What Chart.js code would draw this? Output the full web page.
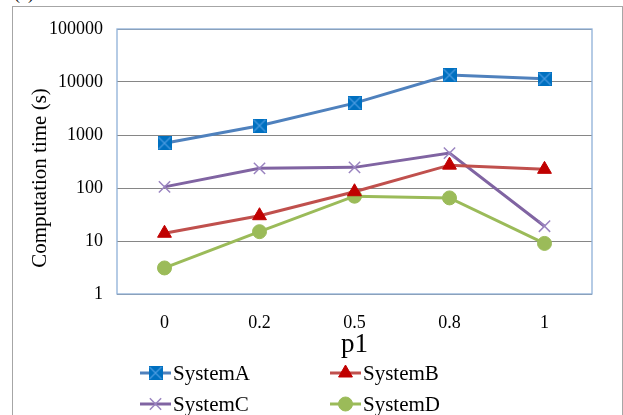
<!DOCTYPE html>
<html>
<head>
<meta charset="utf-8">
<script src="https://cdn.jsdelivr.net/npm/chart.js@4/dist/chart.umd.min.js"></script>
<style>
  html, body { margin: 0; padding: 0; background: #fff; overflow: hidden; }
  #frame { position: absolute; left: 12px; top: 6px; width: 609px; height: 420px; border: 1.5px solid #a6a6a6; }
  #tag { position: absolute; left: 14px; top: -17px; font: 18px "Liberation Serif", serif; color: #000; }
  #wrap { position: absolute; left: 0; top: 0; width: 623px; height: 415px; }
</style>
</head>
<body>
<div id="frame"></div>
<div id="tag">(a)</div>
<div id="wrap"><canvas id="chart"></canvas></div>
<script>
// p1 values on the x axis, computation times in seconds (log scale)
const P1_LABELS = ['0', '0.2', '0.5', '0.8', '1'];
const SYSTEM_A = [700, 1500, 4000, 13500, 11500];
const SYSTEM_B = [14, 30, 85, 270, 225];
const SYSTEM_C = [105, 235, 245, 455, 19];
const SYSTEM_D = [3.1, 15, 70, 65, 9];
const Y_TICKS = [1, 10, 100, 1000, 10000, 100000];
const Y_TITLE = 'Computation time (s)';

const FONT = '"Liberation Serif", "Times New Roman", serif';

// square marker with an X through it, like the Excel one
function squareX() {
  const c = document.createElement('canvas');
  c.width = 14; c.height = 14;
  const g = c.getContext('2d');
  g.fillStyle = '#0070c0';
  g.fillRect(0, 0, 14, 14);
  g.strokeStyle = '#4a9be0';
  g.lineWidth = 1.2;
  g.beginPath();
  g.moveTo(1, 1); g.lineTo(13, 13);
  g.moveTo(13, 1); g.lineTo(1, 13);
  g.stroke();
  return c;
}

const datasets = [
  { label: 'SystemA', data: SYSTEM_A, borderColor: '#4f81bd', backgroundColor: '#0070c0',
    pointStyle: squareX(), pointRadius: 7, pointBorderWidth: 0 },
  { label: 'SystemB', data: SYSTEM_B, borderColor: '#c0504d', backgroundColor: '#c00000',
    pointBorderColor: '#c00000', pointStyle: 'triangle', pointRadius: 8, pointBorderWidth: 1 },
  { label: 'SystemC', data: SYSTEM_C, borderColor: '#8064a2', backgroundColor: '#9a84c0',
    pointBorderColor: '#9a84c0', pointStyle: 'crossRot', pointRadius: 8, pointBorderWidth: 1.5 },
  { label: 'SystemD', data: SYSTEM_D, borderColor: '#9bbb59', backgroundColor: '#9bbb59',
    pointBorderColor: '#9bbb59', pointStyle: 'circle', pointRadius: 7, pointBorderWidth: 1 }
];
datasets.forEach(d => { d.borderWidth = 3; d.tension = 0; d.pointHoverRadius = d.pointRadius; });

// light blue frame round the plot area
const plotFrame = {
  id: 'plotFrame',
  beforeDatasetsDraw(chart) {
    const a = chart.chartArea, ctx = chart.ctx;
    ctx.save();
    ctx.strokeStyle = '#8eb0d8';
    ctx.lineWidth = 1.3;
    ctx.strokeRect(a.left, a.top, a.right - a.left, a.bottom - a.top);
    ctx.restore();
  }
};

// y title sits a bit below the middle of the axis in the original
const yTitle = {
  id: 'yTitle',
  afterDraw(chart) {
    const ctx = chart.ctx;
    ctx.save();
    ctx.translate(40, 178);
    ctx.rotate(-Math.PI / 2);
    ctx.fillStyle = '#000';
    ctx.font = '21px ' + FONT;
    ctx.textAlign = 'center';
    ctx.textBaseline = 'middle';
    ctx.fillText(Y_TITLE, 0, 0);
    ctx.restore();
  }
};

// two-column legend under the axis title
const gridLegend = {
  id: 'gridLegend',
  afterDraw(chart) {
    const ctx = chart.ctx;
    chart.data.datasets.forEach((ds, i) => {
      const x = 140 + (i % 2) * 190;
      const y = 373 + Math.floor(i / 2) * 31;
      ctx.save();
      ctx.strokeStyle = ds.borderColor;
      ctx.lineWidth = 3;
      ctx.beginPath();
      ctx.moveTo(x, y); ctx.lineTo(x + 31, y);
      ctx.stroke();
      ctx.fillStyle = ds.backgroundColor;
      ctx.strokeStyle = ds.pointBorderColor || ds.backgroundColor;
      ctx.lineWidth = ds.pointBorderWidth;
      Chart.helpers.drawPoint(ctx, { pointStyle: ds.pointStyle, radius: ds.pointRadius, borderWidth: ds.pointBorderWidth, rotation: 0 }, x + 15.5, y);
      ctx.fillStyle = '#000';
      ctx.font = '21px ' + FONT;
      ctx.textBaseline = 'middle';
      ctx.fillText(ds.label, x + 33, y + 1);
      ctx.restore();
    });
  }
};

new Chart(document.getElementById('chart'), {
  type: 'line',
  data: { labels: P1_LABELS, datasets },
  options: {
    responsive: true,
    maintainAspectRatio: false,
    animation: false,
    layout: { padding: { top: 29, right: 31, left: 20, bottom: 54 } },
    plugins: { legend: { display: false }, tooltip: { enabled: false } },
    scales: {
      x: {
        type: 'category',
        offset: true,
        grid: { display: false, drawTicks: false },
        border: { display: false },
        ticks: { color: '#000', padding: 18, font: { family: FONT, size: 18 } },
        title: { display: true, text: 'p1', color: '#000', padding: { top: 0, bottom: 0 }, font: { family: FONT, size: 27 } },
        afterFit(s) { s.height = 67; }
      },
      y: {
        type: 'logarithmic',
        min: 1,
        max: 100000,
        afterBuildTicks(s) { s.ticks = Y_TICKS.map(v => ({ value: v })); },
        grid: { color: '#868686', lineWidth: 1, drawTicks: false },
        border: { display: false },
        ticks: { color: '#000', padding: 14, font: { family: FONT, size: 18 }, callback: v => String(v) },
        afterFit(s) { s.width = 97; }
      }
    }
  },
  plugins: [plotFrame, yTitle, gridLegend]
});
</script>
</body>
</html>
